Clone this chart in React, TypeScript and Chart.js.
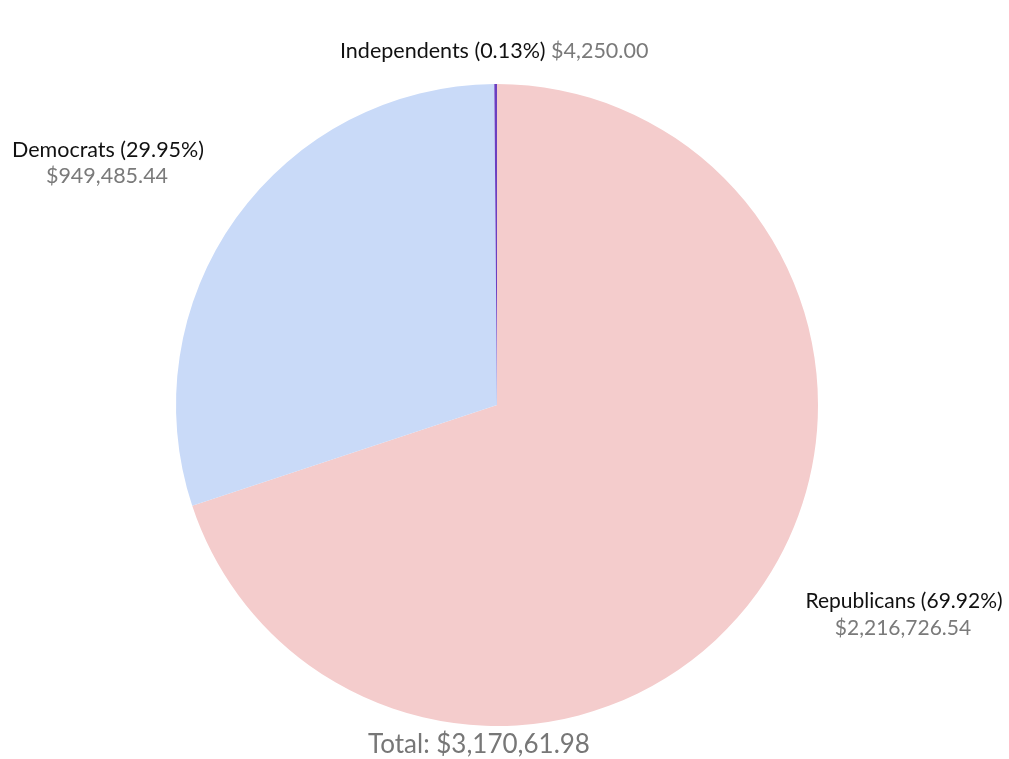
import React, { useEffect, useRef } from "react";
import { Chart, registerables } from "chart.js";

Chart.register(...registerables);

const categories = ["Republicans", "Democrats", "Independents"];
const amounts = [2216726.54, 949485.44, 4250.0];
const sliceColors = ["#f4cccc", "#c9daf8", "#6b3fc0"];
const totalLabel = "Total: $3,170,61.98";

const FONT = "Lato, 'Open Sans', sans-serif";

const fmtMoney = (v: number) =>
  "$" + v.toLocaleString("en-US", { minimumFractionDigits: 2, maximumFractionDigits: 2 });

const labelPlugin = {
  id: "sliceLabels",
  afterDraw(chart: any) {
    const ctx = chart.ctx as CanvasRenderingContext2D;
    const meta = chart.getDatasetMeta(0);
    const arc0 = meta.data[0] as any;
    const cx = arc0.x;
    const cy = arc0.y;
    const total = amounts.reduce((a, b) => a + b, 0);
    const pct = (v: number) => ((v / total) * 100).toFixed(2) + "%";
    const black = "#111111";
    const gray = "#7a7a7a";
    ctx.save();
    ctx.textBaseline = "middle";

    // Republicans
    ctx.font = "21px " + FONT;
    ctx.textAlign = "center";
    ctx.fillStyle = black;
    ctx.fillText(`${categories[0]} (${pct(amounts[0])})`, cx + 407, cy + 196);
    ctx.fillStyle = gray;
    ctx.fillText(fmtMoney(amounts[0]), cx + 406, cy + 223);

    // Democrats
    ctx.font = "21.5px " + FONT;
    ctx.fillStyle = black;
    ctx.fillText(`${categories[1]} (${pct(amounts[1])})`, cx - 389, cy - 255);
    ctx.fillStyle = gray;
    ctx.fillText(fmtMoney(amounts[1]), cx - 390, cy - 229);

    // Independents (single line)
    ctx.textAlign = "left";
    const t1 = `${categories[2]} (${pct(amounts[2])}) `;
    ctx.fillStyle = black;
    ctx.fillText(t1, cx - 157, cy - 354);
    const w1 = ctx.measureText(t1).width;
    ctx.fillStyle = gray;
    ctx.fillText(fmtMoney(amounts[2]), cx - 157 + w1, cy - 354);

    // Total
    ctx.textAlign = "center";
    ctx.font = "26px " + FONT;
    ctx.fillStyle = "#777777";
    ctx.fillText(totalLabel, cx - 18, cy + 340);
    ctx.restore();
  },
};

export default function App() {
  const ref = useRef<HTMLCanvasElement | null>(null);
  useEffect(() => {
    document.body.style.margin = "0";
    const canvas = ref.current!;
    const chart = new Chart(canvas, {
      type: "pie",
      data: {
        labels: categories,
        datasets: [
          {
            data: amounts,
            backgroundColor: sliceColors,
            borderWidth: 0,
          },
        ],
      },
      options: {
        animation: false,
        responsive: false,
        layout: { padding: { left: 176, right: 191, top: 84, bottom: 33 } },
        plugins: {
          legend: { display: false },
          tooltip: { enabled: false },
        },
      },
      plugins: [labelPlugin],
    });
    return () => chart.destroy();
  }, []);
  return (
    <div style={{ width: 1009, height: 759, background: "#fff" }}>
      <canvas ref={ref} width={1009} height={759} style={{ display: "block" }} />
    </div>
  );
}
